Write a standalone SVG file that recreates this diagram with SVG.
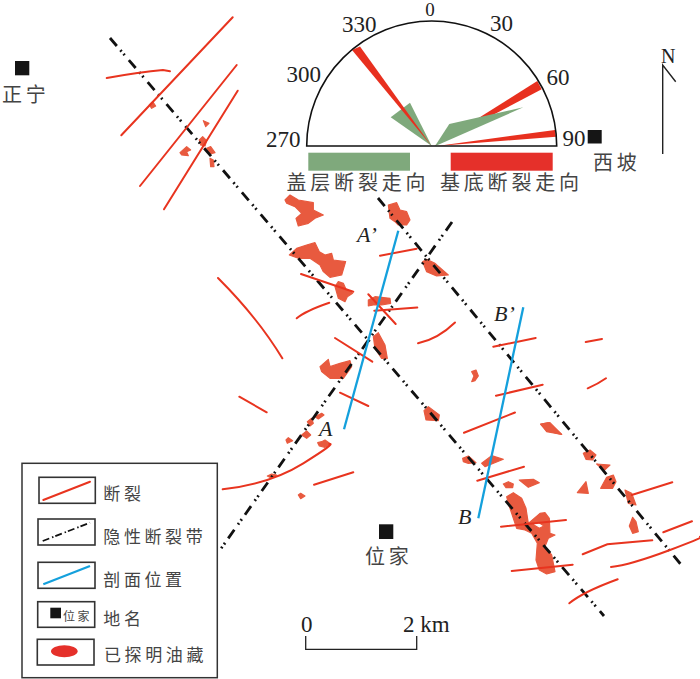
<svg xmlns="http://www.w3.org/2000/svg" width="700" height="679" viewBox="0 0 700 679">
<style>
.f{fill:none;stroke:#e8341f;stroke-width:2;stroke-linecap:round}
.b{fill:none;stroke:#14a0dc;stroke-width:2.3}
.h{fill:none;stroke:#111;stroke-width:2.8;stroke-dasharray:10.5 5.5 1.8 3 1.8 6.4}
.o{fill:#e85a3f;stroke:#e85a3f;stroke-width:3.5;stroke-linejoin:round}
.k{fill:#151515}
.n{font-family:"Liberation Serif",serif;font-size:23px;fill:#222}
.i{font-family:"Liberation Serif",serif;font-style:italic;font-size:22px;fill:#222}
.c{font-family:"Noto Sans CJK SC","Noto Sans",sans-serif;font-size:20px;letter-spacing:3.8px;fill:#444}
.l{font-family:"Noto Sans CJK SC","Noto Sans",sans-serif;font-size:17px;letter-spacing:3.6px;fill:#444}
.x{fill:#fff;stroke:#333;stroke-width:1.6}
</style>
<g id="oil-fields">
<g transform="translate(270,190) scale(.3333)" class="o">
<polygon points="45,30 60,15 85,30 130,38 130,60 160,75 135,85 115,100 85,108 78,85 95,70 75,50 50,40"/>
<polygon points="58,195 80,175 110,165 135,158 148,185 165,195 185,190 190,210 227,215 215,255 180,262 160,245 150,225 120,205 85,205"/>
<polygon points="195,290 205,275 220,280 228,298 248,310 232,320 225,335 205,325"/>
<polygon points="355,45 380,38 390,60 410,65 420,90 410,105 385,105 375,95 360,85"/>
<polygon points="458,215 470,208 495,220 535,255 500,258 470,245"/>
<polygon points="295,330 315,320 360,325 362,340 335,345 310,345 295,348"/>
<polygon points="310,440 325,428 345,465 352,505 335,505 315,475"/>
<polygon points="150,530 175,508 180,530 210,520 240,512 245,530 220,565 180,565 155,545"/>
</g>
<g transform="translate(450,400) scale(.3333)" class="o">
<polygon points="38,175 55,168 78,188 55,190 40,185"/>
<polygon points="95,190 125,167 160,178 125,192 105,200"/>
<polygon points="160,252 175,245 190,252 188,263 168,263"/>
<polygon points="208,240 250,238 268,248 235,262"/>
<polygon points="272,72 300,68 335,103 290,95"/>
<path fill-rule="evenodd" d="M170,290L190,278 215,295 228,325 235,370 270,340 285,338 298,355 300,400 315,405 295,415 285,440 305,465 315,515 290,522 268,510 258,480 262,430 245,400 225,390 200,385 185,340 175,310ZM248,373L265,367 282,378 268,385Z"/>
<polygon points="400,160 420,150 438,165 428,180 408,178"/>
<polygon points="440,192 480,195 462,212"/>
<polygon points="470,232 490,225 498,245 488,265 452,265"/>
<polygon points="382,278 408,245 415,280"/>
<polygon points="525,270 545,280 558,315 535,310"/>
<polygon points="548,352 558,365 565,395 548,400 538,378"/>
</g>
<g transform="translate(400,290) scale(.3333)" class="o">
<polygon points="215,245 228,240 235,258 225,272 215,275 222,258"/>
<polygon points="422,403 445,398 485,433 440,422"/>
<polygon points="72,362 85,350 118,375 115,392 78,390"/>
</g>
<g transform="translate(210,360) scale(.3333)" class="o">
<polygon points="315,170 335,160 342,165 325,177"/>
<polygon points="292,185 305,175 310,190 300,198"/>
<polygon points="275,225 290,213 302,225 290,235"/>
<polygon points="228,240 235,233 248,242 232,250"/>
<polygon points="323,248 335,245 345,240 362,252 345,262 328,258"/>
<polygon points="172,348 185,342 200,345 185,355"/>
<polygon points="265,405 272,400 285,408 272,416"/>
</g>
<g transform="translate(90,10) scale(.3333)" class="o">
<polygon points="178,285 188,275 197,288 185,295"/>
<polygon points="340,332 357,340 347,350"/>
<polygon points="328,390 338,380 350,392 345,408 332,405"/>
<polygon points="270,428 290,410 302,420 290,425 295,437 275,435"/>
<polygon points="350,415 362,410 375,428 360,432"/>
<polygon points="360,445 370,450 372,470 362,470"/>
</g>
</g>
<g id="connectors">
<g id="hidden-fault-belts">
<line class="h" x1="110" y1="38" x2="604" y2="616"/>
<line class="h" x1="378" y1="198" x2="683" y2="567"/>
<line class="h" x1="452" y1="222" x2="220" y2="550"/>
</g>
<g id="faults">
<line class="f" x1="232.7" y1="17.3" x2="121.3" y2="135.3"/>
<line class="f" x1="236.7" y1="65" x2="140" y2="186"/>
<line class="f" x1="237.7" y1="90.7" x2="164" y2="209.3"/>
<path class="f" d="M106.7,78Q140,72 163,70L170,71.3"/>
<line class="f" x1="380" y1="255.7" x2="416.7" y2="248.7"/>
<line class="f" x1="301" y1="274" x2="353.3" y2="291.7"/>
<path class="f" d="M296.7,318.3Q305,311 329.3,302.7"/>
<line class="f" x1="368.3" y1="294.3" x2="395.7" y2="324"/>
<line class="f" x1="374.3" y1="310.7" x2="417.3" y2="307.5"/>
<path class="f" d="M418,343.3Q438,339 455,322.5"/>
<line class="f" x1="335" y1="338" x2="372.3" y2="361.7"/>
<path class="f" d="M218,278Q258,318 282.3,358.3"/>
<line class="f" x1="493.3" y1="346.7" x2="535.7" y2="338"/>
<line class="f" x1="585.7" y1="342" x2="602" y2="339"/>
<line class="f" x1="496" y1="395.7" x2="542.7" y2="384.7"/>
<path class="f" d="M587.7,388.3Q598,384 606,378.3"/>
<line class="f" x1="464" y1="432.8" x2="515" y2="412.5"/>
<line class="f" x1="477.3" y1="480.7" x2="524" y2="466.7"/>
<line class="f" x1="501" y1="526.7" x2="566" y2="520"/>
<line class="f" x1="511.7" y1="571" x2="572.7" y2="564.7"/>
<path class="f" d="M569.3,603.3Q583,592 617.7,579.3"/>
<polyline class="f" points="582.7,554.3 607.3,544.3 652.3,540.3"/>
<path class="f" d="M611,567Q630,565 670,550T700,536.7"/>
<line class="f" x1="663.3" y1="532.3" x2="692" y2="521.3"/>
<line class="f" x1="631.7" y1="495" x2="672.3" y2="482.3"/>
<line class="f" x1="239.3" y1="396.7" x2="266.7" y2="412.3"/>
<line class="f" x1="340" y1="392.7" x2="368.3" y2="406"/>
<path class="f" d="M222.7,489.3Q270,484 303.3,463.3T329.3,444"/>
<line class="f" x1="314" y1="484.7" x2="353.3" y2="472.3"/>
</g>
<g id="sections">
<line class="b" x1="398.3" y1="230.7" x2="344" y2="429.3"/>
<line class="b" x1="523.3" y1="307.3" x2="478.3" y2="518.3"/>
</g>
</g>
<g id="section-labels">
<text class="i" x="357" y="242">A’</text>
<text class="i" x="319" y="436">A</text>
<text class="i" x="494" y="321">B’</text>
<text class="i" x="458" y="524">B</text>
</g>
<g id="rose-diagram">
<polygon points="434,146 537.3,81 541.7,89.3" fill="#e8301f"/>
<polygon points="437,146 555,130 556,136.7" fill="#e8301f"/>
<polygon points="431.7,146 390.7,117.3 410,102.7" fill="#7fa97c"/>
<polygon points="435,146 449.3,124 523.3,107.3 440,144" fill="#7fa97c"/>
<polygon points="431.5,146 352,50 360,46.5" fill="#e8301f"/>
<path d="M306.7,146A125,125 0 0 1 556.7,146Z" fill="none" stroke="#111" stroke-width="1.6"/>
<rect x="308.3" y="152.7" width="101.7" height="18" fill="#7fa97c"/>
<rect x="450.7" y="152.7" width="102" height="18" fill="#e5302a"/>
<text class="n" x="430" y="16" text-anchor="middle" style="font-size:19px">0</text>
<text class="n" x="342" y="32">330</text>
<text class="n" x="490" y="31">30</text>
<text class="n" x="546.5" y="85">60</text>
<text class="n" x="286.5" y="82">300</text>
<text class="n" x="266" y="147">270</text>
<text class="n" x="562.5" y="146">90</text>
<text class="c" x="286.5" y="190">盖层断裂走向</text>
<text class="c" x="440" y="190">基底断裂走向</text>
</g>
<g id="xipo"><rect class="k" x="587.7" y="130" width="14" height="13.5"/><text class="c" x="593" y="170">西坡</text></g>
<g id="zhengning"><rect class="k" x="15" y="61" width="14.3" height="14.3"/><text class="c" x="2" y="102">正宁</text></g>
<g id="weijia"><rect class="k" x="379" y="524.3" width="14.3" height="14.7"/><text class="c" x="365" y="564">位家</text></g>
<g id="north">
<text x="661" y="62.5" font-family="Liberation Serif,serif" font-size="20" fill="#222">N</text>
<polyline points="675.7,81.7 662.7,65 662.7,154" fill="none" stroke="#222" stroke-width="1.4"/>
</g>
<g id="scale">
<polyline points="305.7,636 305.7,649.3 416.7,649.3 416.7,636" fill="none" stroke="#222" stroke-width="1.3"/>
<text class="n" x="301" y="631.5">0</text>
<text class="n" x="403" y="631.5">2 km</text>
</g>
<g id="legend">
<rect x="22" y="463.3" width="195.3" height="214.4" fill="#fff" stroke="#333" stroke-width="1.5"/>
<g id="legend-fault"><rect class="x" x="39" y="477.3" width="56.3" height="26"/><line class="f" x1="43.3" y1="500" x2="90" y2="481.7"/><text class="l" x="103.3" y="499.5">断裂</text></g>
<g id="legend-belt"><rect class="x" x="38" y="519" width="57" height="26"/><line x1="42.7" y1="541" x2="90" y2="522.7" fill="none" stroke="#111" stroke-width="1.8" stroke-dasharray="7 3 1.5 2"/><text class="l" x="103.3" y="542.7">隐性断裂带</text></g>
<g id="legend-section"><rect class="x" x="38" y="562.3" width="57" height="26"/><line class="b" x1="43.3" y1="584.3" x2="90" y2="566"/><text class="l" x="103.3" y="586">剖面位置</text></g>
<g id="legend-place"><rect class="x" x="37.7" y="601.7" width="57" height="25.6"/><rect class="k" x="50.3" y="607.7" width="10.7" height="10.6"/><text x="63" y="621" font-family="Noto Sans CJK SC,sans-serif" font-size="12" letter-spacing="2.5" fill="#444">位家</text><text class="l" x="103.3" y="624.7">地名</text></g>
<g id="legend-oil"><rect class="x" x="37.3" y="639.3" width="56.7" height="25.7"/><ellipse cx="64.3" cy="651.3" rx="13.3" ry="6" fill="#e5302a"/><text class="l" x="104" y="660.7">已探明油藏</text></g>
</g>
</svg>
